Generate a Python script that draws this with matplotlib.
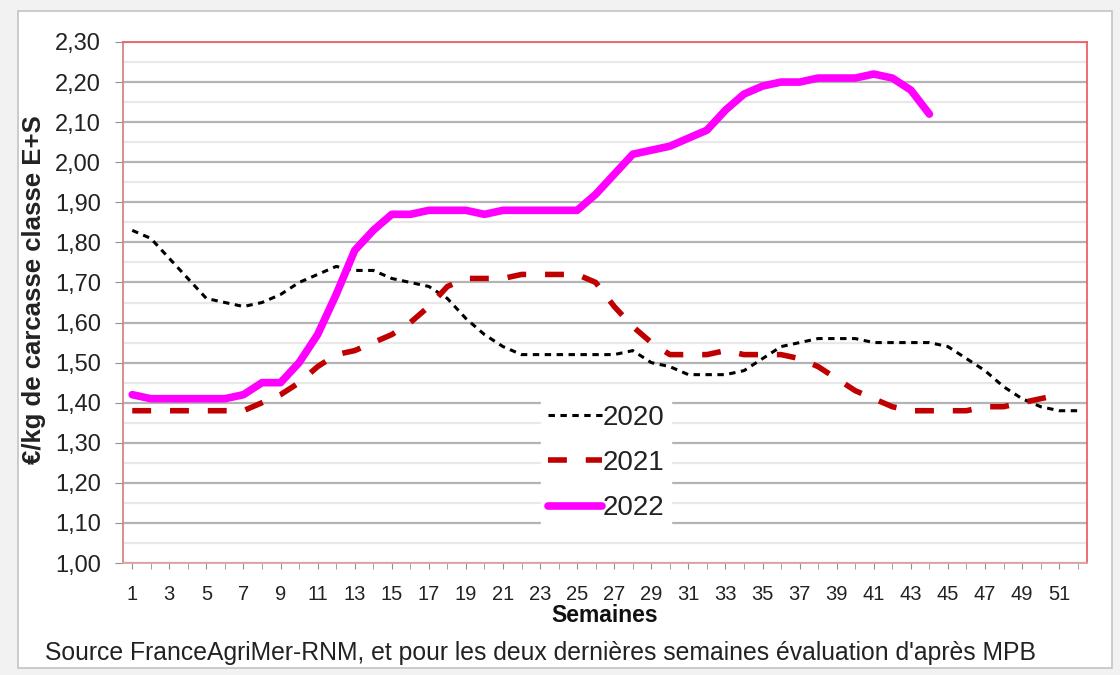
import matplotlib
matplotlib.use("Agg")
import matplotlib.pyplot as plt
from matplotlib.ticker import FuncFormatter, MultipleLocator
from matplotlib.patches import Rectangle

plt.rcParams["font.family"] = ["Liberation Sans", "DejaVu Sans"]

# weekly prices
prix_2020 = [1.83, 1.81, 1.76, 1.71, 1.66, 1.65, 1.64, 1.65, 1.67, 1.70,
             1.72, 1.74, 1.73, 1.73, 1.71, 1.70, 1.69, 1.66, 1.61, 1.57,
             1.54, 1.52, 1.52, 1.52, 1.52, 1.52, 1.52, 1.53, 1.50, 1.49,
             1.47, 1.47, 1.47, 1.48, 1.51, 1.54, 1.55, 1.56, 1.56, 1.56,
             1.55, 1.55, 1.55, 1.55, 1.54, 1.51, 1.48, 1.44, 1.41, 1.39,
             1.38, 1.38]
prix_2021 = [1.38, 1.38, 1.38, 1.38, 1.38, 1.38, 1.38, 1.40, 1.42, 1.45,
             1.49, 1.52, 1.53, 1.55, 1.57, 1.60, 1.64, 1.69, 1.71, 1.71,
             1.71, 1.72, 1.72, 1.72, 1.72, 1.70, 1.64, 1.59, 1.55, 1.52,
             1.52, 1.52, 1.53, 1.52, 1.52, 1.52, 1.51, 1.49, 1.46, 1.43,
             1.41, 1.39, 1.38, 1.38, 1.38, 1.38, 1.39, 1.39, 1.40, 1.41,
             1.42]
prix_2022 = [1.42, 1.41, 1.41, 1.41, 1.41, 1.41, 1.42, 1.45, 1.45, 1.50,
             1.57, 1.67, 1.78, 1.83, 1.87, 1.87, 1.88, 1.88, 1.88, 1.87,
             1.88, 1.88, 1.88, 1.88, 1.88, 1.92, 1.97, 2.02, 2.03, 2.04,
             2.06, 2.08, 2.13, 2.17, 2.19, 2.20, 2.20, 2.21, 2.21, 2.21,
             2.22, 2.21, 2.18, 2.12]

semaines_ticks = list(range(1, 52, 2))

fig = plt.figure(figsize=(11.2, 6.75), dpi=100)
fig.patch.set_facecolor("#f2f2f2")

# white card with a thin grey border behind the chart
fig.patches.append(Rectangle((0.016, 0.010), 0.977, 0.974, transform=fig.transFigure,
                             facecolor="white", edgecolor="#c4c4c4", lw=1.2, zorder=-1))

ax = fig.add_axes([0.1098, 0.1659, 0.8607, 0.7719])

ax.plot(range(1, len(prix_2020) + 1), prix_2020, color="black", lw=2.2,
        dashes=(2.1, 1.8), label="2020", zorder=3)
ax.plot(range(1, len(prix_2021) + 1), prix_2021, color="#c00000", lw=4.0,
        dashes=(3.4, 3.4), label="2021", zorder=4)
ax.plot(range(1, len(prix_2022) + 1), prix_2022, color="#ff00ff", lw=5.5,
        solid_capstyle="round", label="2022", zorder=5)

ax.set_xlim(0.5, 52.5)
ax.set_ylim(1.0, 2.3)

ax.yaxis.set_major_locator(MultipleLocator(0.1))
ax.yaxis.set_minor_locator(MultipleLocator(0.05))
ax.yaxis.set_major_formatter(FuncFormatter(lambda v, p: f"{v:.2f}".replace(".", ",")))
ax.set_xticks(semaines_ticks)
ax.xaxis.set_minor_locator(MultipleLocator(1))

ax.grid(which="major", axis="y", color="#b4b4b4", lw=1.6)
ax.grid(which="minor", axis="y", color="#e8e8e8", lw=1.6)
ax.set_axisbelow(True)

ax.spines["top"].set_color("#f06060")
ax.spines["right"].set_color("#f06060")
ax.spines["left"].set_color("#d08888")
ax.spines["bottom"].set_color("#e0a0a0")
for side in ["left", "top", "right", "bottom"]:
    ax.spines[side].set_linewidth(1.3)

ax.tick_params(axis="y", which="major", length=6, color="#909090", labelsize=17,
               labelcolor="#222222", pad=10)
ax.tick_params(axis="y", which="minor", length=0)
ax.tick_params(axis="x", which="both", length=4, color="#909090", labelsize=14.5,
               labelcolor="#222222", pad=12)

ax.set_ylabel("€/kg de carcasse classe E+S", fontsize=18.5, fontweight="bold",
              color="#222222")
ax.yaxis.set_label_coords(-0.080, 0.525)
ax.set_xlabel("Semaines", fontsize=16.5, fontweight="bold", color="#111111", labelpad=0)

leg = ax.legend(loc="center", bbox_to_anchor=(0.501, 0.192), fontsize=20,
                frameon=True, fancybox=False, handlelength=1.95, handletextpad=0.0,
                labelspacing=0.7, borderpad=0.25, borderaxespad=0)
leg.get_frame().set_facecolor("white")
leg.get_frame().set_edgecolor("white")
leg.get_frame().set_alpha(1)
for t in leg.get_texts():
    t.set_color("#222222")

fig.text(0.040, 0.022, "Source FranceAgriMer-RNM, et pour les deux dernières semaines évaluation d'après MPB",
         fontsize=17.8, color="#222222")

fig.savefig("out.png", dpi=100)
